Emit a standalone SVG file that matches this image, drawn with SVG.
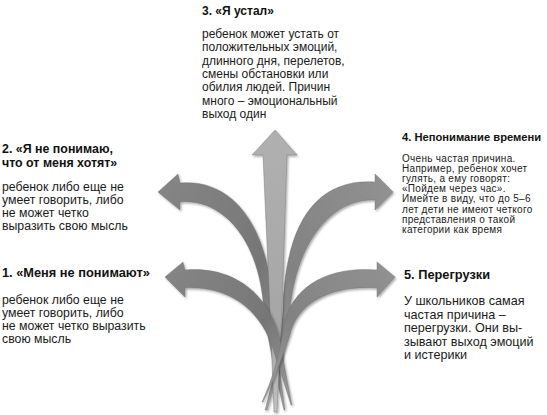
<svg xmlns="http://www.w3.org/2000/svg" width="547" height="415" viewBox="0 0 547 415">
<style>
.h{font-family:"Liberation Sans",Arial,sans-serif;font-weight:bold;font-size:12.8px;fill:#111}
.h2{font-size:12.4px}
.h3{font-size:12px}
.h11{font-size:11.2px}
.b{font-family:"Liberation Sans",Arial,sans-serif;font-size:12.3px;fill:#1a1a1a}
.b3{font-size:12px}
.b5{font-size:12.6px}
.s{font-size:10px;letter-spacing:0.3px}
.arr{stroke:#6e6e6e;stroke-width:0.4;filter:url(#sh)}
</style>
<defs>
<filter id="sh" x="-20%" y="-20%" width="140%" height="140%">
<feDropShadow dx="1.2" dy="1.5" stdDeviation="1.3" flood-color="#000" flood-opacity="0.35"/>
</filter>
<linearGradient id="gl" x1="0" y1="0" x2="1" y2="1">
<stop offset="0" stop-color="#868686"/><stop offset="0.6" stop-color="#767676"/><stop offset="1" stop-color="#9a9a9a"/>
</linearGradient>
<linearGradient id="gr" x1="1" y1="0" x2="0" y2="1">
<stop offset="0" stop-color="#929292"/><stop offset="0.6" stop-color="#828282"/><stop offset="1" stop-color="#a0a0a0"/>
</linearGradient>
<linearGradient id="gu" x1="0" y1="0" x2="0" y2="1">
<stop offset="0" stop-color="#b0b0b0"/><stop offset="0.7" stop-color="#a6a6a6"/><stop offset="1" stop-color="#c0c0c0"/>
</linearGradient>
</defs>

<g id="connectors">
<path id="arrow-2" class="arr" fill="url(#gl)" d="M158,192 L178,174 L180,183 C235,178 268,230 272,300 C275,340 281,380 285,410 L284,410 C277,380 267,340 263,300 C256,235 220,198 180,202 L180,210 Z"/>
<path id="arrow-4" class="arr" fill="url(#gr)" d="M393,192 L375,174 L375,182 C315,178 285,225 283,310 C280,350 272,385 265,410 L267,410 C275,385 286,350 290,310 C296,245 330,198 375,200 L375,210 Z"/>
<path id="arrow-3" class="arr" fill="url(#gu)" d="M275,130 L297,155 L287,155 L282,310 L277,412 L274,412 L270,310 L263,155 L252,155 Z"/>
<path id="arrow-1" class="arr" fill="url(#gl)" d="M165,277 L183,262 L185,270 C230,266 268,290 280,340 C284,365 288,385 292,405 L291,405 C285,385 278,365 273,348 C258,305 225,286 185,288 L185,297 Z"/>
<path id="arrow-5" class="arr" fill="url(#gr)" d="M395,277 L377,262 L377,270 C330,266 292,285 284,325 C280,355 272,380 262,402 L263,402 C274,380 283,355 290,335 C298,300 335,285 377,288 L377,297 Z"/>
</g>

<g id="node-3">
<text class="h h3" x="202" y="15">3. «Я устал»</text>
<text class="b b3" x="202" y="38">ребенок может устать от</text>
<text class="b b3" x="202" y="51.3">положительных эмоций,</text>
<text class="b b3" x="202" y="64.6">длинного дня, перелетов,</text>
<text class="b b3" x="202" y="78">смены обстановки или</text>
<text class="b b3" x="202" y="91.3">обилия людей. Причин</text>
<text class="b b3" x="202" y="104.6">много – эмоциональный</text>
<text class="b b3" x="202" y="118">выход один</text>
</g>

<g id="node-2">
<text class="h h2" x="2" y="153">2. «Я не понимаю,</text>
<text class="h h2" x="2" y="166.5">что от меня хотят»</text>
<text class="b" x="2" y="191">ребенок либо еще не</text>
<text class="b" x="2" y="204">умеет говорить, либо</text>
<text class="b" x="2" y="217">не может четко</text>
<text class="b" x="2" y="230">выразить свою мысль</text>
</g>

<g id="node-4">
<text class="h h11" x="402" y="140.5">4. Непонимание времени</text>
<text class="b s" x="402" y="161.5">Очень частая причина.</text>
<text class="b s" x="402" y="171.7">Например, ребенок хочет</text>
<text class="b s" x="402" y="181.9">гулять, а ему говорят:</text>
<text class="b s" x="402" y="192.1">«Пойдем через час».</text>
<text class="b s" x="402" y="202.3">Имейте в виду, что до 5–6</text>
<text class="b s" x="402" y="212.5">лет дети не имеют четкого</text>
<text class="b s" x="402" y="222.7">представления о такой</text>
<text class="b s" x="402" y="232.9">категории как время</text>
</g>

<g id="node-1">
<text class="h" x="2" y="277">1. «Меня не понимают»</text>
<text class="b" x="2" y="304">ребенок либо еще не</text>
<text class="b" x="2" y="317">умеет говорить, либо</text>
<text class="b" x="2" y="330">не может четко выразить</text>
<text class="b" x="2" y="343">свою мысль</text>
</g>

<g id="node-5">
<text class="h" x="404" y="279">5. Перегрузки</text>
<text class="b b5" x="404" y="305">У школьников самая</text>
<text class="b b5" x="404" y="318.5">частая причина –</text>
<text class="b b5" x="404" y="332">перегрузки. Они вы-</text>
<text class="b b5" x="404" y="345.5">зывают выход эмоций</text>
<text class="b b5" x="404" y="359">и истерики</text>
</g>
</svg>
